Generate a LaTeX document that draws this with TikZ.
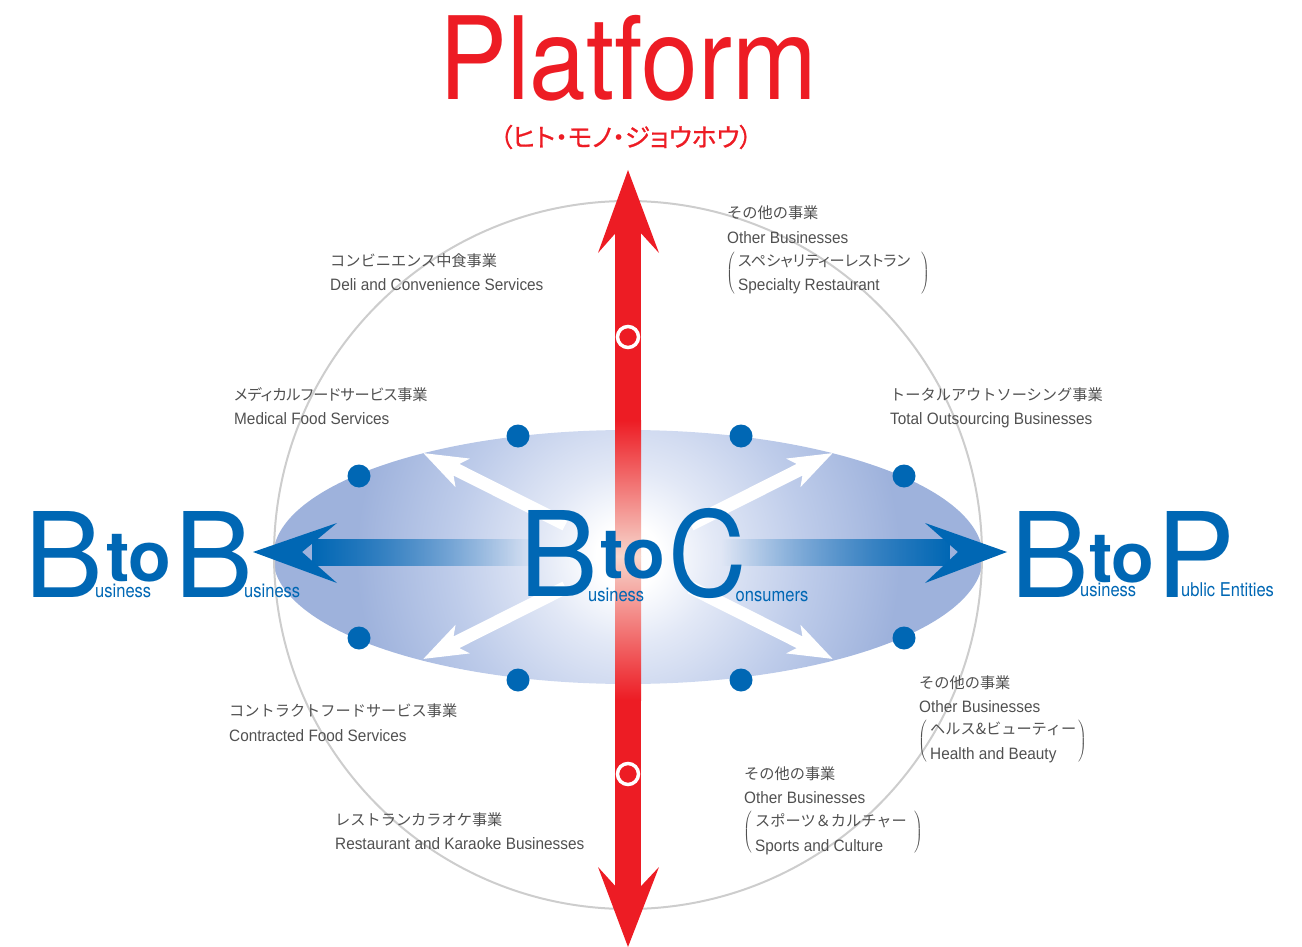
\documentclass[tikz,border=0pt]{standalone}
\usepackage{fontspec}
\usetikzlibrary{fadings}
\setmainfont{TeX Gyre Heros}
\newfontfamily\heros{TeX Gyre Heros}
\newfontfamily\condf[FakeStretch=0.87]{TeX Gyre Heros}
\newfontfamily\labfont[FakeStretch=0.93]{Liberation Sans}
\newfontfamily\cjk{Noto Sans CJK JP}
\newfontfamily\cjkp[RawFeature=+palt]{Noto Sans CJK JP}
\newfontfamily\cjktitle[RawFeature=+palt,FakeBold=0.8]{Noto Sans CJK JP}
\definecolor{pred}{RGB}{237,28,36}
\definecolor{redlight}{RGB}{247,214,204}
\definecolor{bblue}{RGB}{0,103,180}
\definecolor{ellblue}{RGB}{158,178,220}
\definecolor{glowa}{RGB}{226,232,246}
\definecolor{glowb}{RGB}{190,204,234}
\definecolor{ltext}{RGB}{80,80,80}
\definecolor{ringgray}{RGB}{205,205,205}
\pgfdeclareradialshading{glow}{\pgfpoint{0bp}{0bp}}{color(0bp)=(white); color(2bp)=(white); color(5.5bp)=(glowa); color(11bp)=(glowb); color(17bp)=(ellblue); color(50bp)=(ellblue)}
\tikzfading[name=fadetoright, left color=transparent!0, right color=transparent!100]
\tikzfading[name=fadetoleft, left color=transparent!100, right color=transparent!0]
\newcommand{\bigparen}[1]{$\nulldelimiterspace=0pt\left#1\vrule height 19pt depth 19pt width 0pt\right.$}
\begin{document}
\begin{tikzpicture}[x=1pt,y=-1pt,
  jp/.style={anchor=base west, inner sep=0, text=ltext, font=\cjk\fontsize{15.2}{16}\selectfont},
  jpp/.style={anchor=base west, inner sep=0, text=ltext, font=\cjkp\fontsize{15.2}{16}\selectfont},
  en/.style={anchor=base west, inner sep=0, text=ltext, font=\labfont\fontsize{16.5}{17}\selectfont},
  paren/.style={anchor=center, inner sep=0, text=ltext, font=\fontsize{14}{17}\selectfont},
  bigl/.style={anchor=base west, inner sep=0, text=bblue, font=\heros\fontsize{118}{118}\selectfont},
  tol/.style={anchor=base west, inner sep=0, text=bblue, font=\heros\bfseries\fontsize{70}{70}\selectfont},
  subl/.style={anchor=base west, inner sep=0, text=bblue, font=\condf\fontsize{19}{19}\selectfont},
  dot/.style={fill=bblue},
  ring/.style={draw=white, line width=3.5, fill=pred}
]
\useasboundingbox (0,0) rectangle (1302,947);
% ellipse with glow
\begin{scope}
\clip (628,557) ellipse [x radius=355, y radius=127];
\shade[shading=glow] (628,557) circle [radius=400];
\end{scope}
% gray circle
\draw[ringgray, line width=2] (628,555) circle [radius=354];
% white diagonal arrows
\foreach \ang in {26.7,153.3,206.7,-26.7} {
  \fill[white, shift={(628,556)}, rotate=\ang]
    (70,-6.5) -- (192,-6.5) -- (185,-16) -- (229,0) -- (185,16) -- (192,6.5) -- (70,6.5) -- cycle;
}
% blue horizontal arrows
\fill[bblue, path fading=fadetoright] (312,539) rectangle (536,566);
\fill[bblue] (253,552) -- (337,523) -- (302,552) -- (337,583) -- cycle;
\fill[bblue, path fading=fadetoleft] (722,539) rectangle (950,566);
\fill[bblue] (1007,552) -- (925,523) -- (958,552) -- (925,583) -- cycle;
% red vertical arrow
\fill[pred] (615,212) rectangle (641,420);
\shade[top color=pred, bottom color=redlight] (615,420) rectangle (641,556);
\shade[top color=redlight, bottom color=pred] (615,556) rectangle (641,700);
\fill[pred] (615,700) rectangle (641,907);
\fill[pred] (628,170) -- (659,253) -- (628,219) -- (598,253) -- cycle;
\fill[pred] (628,947) -- (659,867) -- (628,900) -- (598,867) -- cycle;
\draw[ring] (628,337) circle [radius=10.5];
\draw[ring] (628,774) circle [radius=10.5];
% dots
\foreach \p in {(518,436),(741,436),(359,476),(904,476),(359,638),(904,638),(518,680),(741,680)} {
  \fill[dot] \p circle [radius=11.5];
}
% title
\node[anchor=base west, inner sep=0, text=pred, font=\heros\fontsize{115}{115}\selectfont] (plat) at (439,100) {\scalebox{0.885}[1]{Platform}};
\node[anchor=center, inner sep=0, text=pred, font=\cjktitle\fontsize{25.5}{27}\selectfont] (platjp) at (626,137) {（ヒト・モノ・ジョウホウ）};
% BtoB
\node[bigl] (bb1) at (24.3,597) {B};
\node[tol] (bbto) at (106,581) {to};
\node[bigl] (bb2) at (174.3,597) {B};
\node[subl] (bbs1) at (95,597) {usiness};
\node[subl] (bbs2) at (244,597) {usiness};
% BtoC
\node[bigl] (bc1) at (519.3,596) {B};
\node[tol] (bcto) at (600,578) {to};
\node[bigl] (bc2) at (668.5,596) {\scalebox{0.92}[1]{C}};
\node[subl] (bcs1) at (588,601) {usiness};
\node[subl] (bcs2) at (735.5,601) {onsumers};
% BtoP
\node[bigl] (bp1) at (1010.3,597) {B};
\node[tol] (bpto) at (1089,582) {to};
\node[bigl] (bp2) at (1156,597) {P};
\node[subl] (bps1) at (1080,596) {usiness};
\node[subl] (bps2) at (1181,596) {ublic Entities};
% labels
\node[jp] (l1a) at (330,266.5) {コンビニエンス中食事業};
\node[en] (l1b) at (330,290) {Deli and Convenience Services};
\node[jp] (l2a) at (727,218.5) {その他の事業};
\node[en] (l2b) at (727,243) {Other Businesses};
\node[paren] (l2p) at (730.5,274) {\bigparen(};
\node[jpp] (l2c) at (738,266.5) {スペシャリティーレストラン};
\node[en] (l2d) at (738,290) {Specialty Restaurant};
\node[paren] (l2q) at (925.5,274) {\bigparen)};
\node[jpp] (l3a) at (234,400.5) {メディカルフードサービス事業};
\node[en] (l3b) at (234,424) {Medical Food Services};
\node[jp] (l4a) at (890,400.5) {トータルアウトソーシング事業};
\node[en] (l4b) at (890,424) {Total Outsourcing Businesses};
\node[jp] (l5a) at (229,716.5) {コントラクトフードサービス事業};
\node[en] (l5b) at (229,741) {Contracted Food Services};
\node[jp] (l6a) at (919,688.5) {その他の事業};
\node[en] (l6b) at (919,712) {Other Businesses};
\node[paren] (l6p) at (922.5,742) {\bigparen(};
\node[jp] (l6c) at (930,734.5) {ヘルス\&ビューティー};
\node[en] (l6d) at (930,759) {Health and Beauty};
\node[paren] (l6q) at (1082.5,742) {\bigparen)};
\node[jp] (l7a) at (335,825.5) {レストランカラオケ事業};
\node[en] (l7b) at (335,849) {Restaurant and Karaoke Businesses};
\node[jp] (l8a) at (744,779.5) {その他の事業};
\node[en] (l8b) at (744,803) {Other Businesses};
\node[paren] (l8p) at (747.5,833) {\bigparen(};
\node[jp] (l8c) at (755,826.5) {スポーツ＆カルチャー};
\node[en] (l8d) at (755,851) {Sports and Culture};
\node[paren] (l8q) at (918.5,833) {\bigparen)};
\end{tikzpicture}
\end{document}
